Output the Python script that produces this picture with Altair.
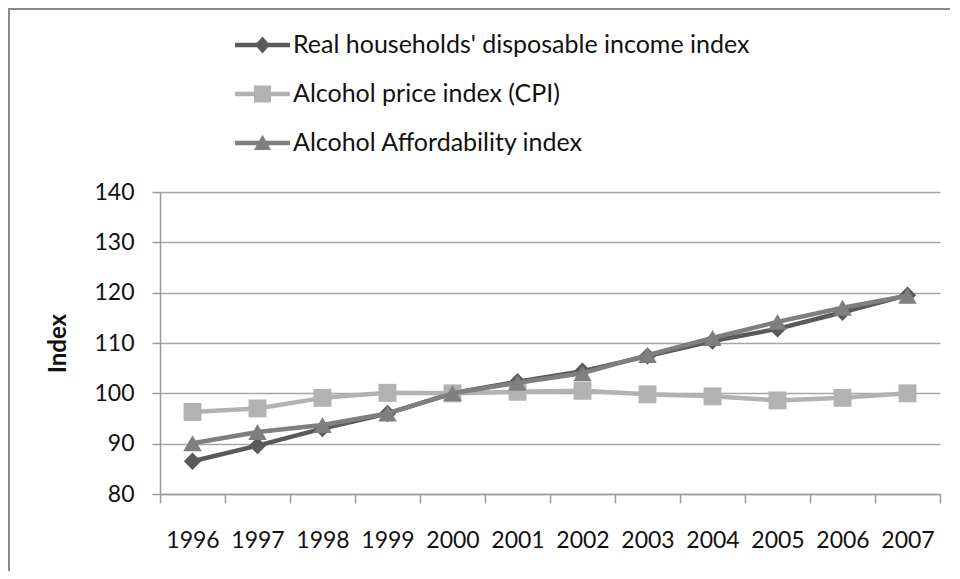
import altair as alt
import pandas as pd

# ---- data ----
years = list(range(1996, 2008))
income = [86.5, 89.6, 93.0, 96.0, 100.0, 102.3, 104.4, 107.4, 110.4, 112.8, 116.1, 119.5]
price = [96.3, 97.0, 99.1, 100.1, 100.0, 100.3, 100.5, 99.8, 99.4, 98.6, 99.1, 100.0]
afford = [90.1, 92.3, 93.7, 96.0, 100.0, 102.1, 104.0, 107.6, 111.0, 114.2, 117.0, 119.4]

series_names = [
    "Real households' disposable income index",
    "Alcohol price index (CPI)",
    "Alcohol Affordability index",
]
series_values = [income, price, afford]
y_ticks = [80, 90, 100, 110, 120, 130, 140]

# ---- styles ----
series_colors = ["#595959", "#b2b2b2", "#7f7f7f"]
marker_shapes = ["diamond", "square", "triangle-up"]
marker_sizes = [300, 320, 340]
legend_paths = [
    "M-1.83,-0.15L1.83,-0.15L1.83,0.15L-1.83,0.15Z M0,-0.57L0.5,0L0,0.57L-0.5,0Z",
    "M-1.83,-0.15L1.83,-0.15L1.83,0.15L-1.83,0.15Z M-0.57,-0.57L0.57,-0.57L0.57,0.57L-0.57,0.57Z",
    "M-1.83,-0.15L1.83,-0.15L1.83,0.15L-1.83,0.15Z M0,-0.55L0.57,0.47L-0.57,0.47Z",
]
FONT = "Lato"
TEXT = "#111111"
AXIS_GRAY = "#9a9a9a"

rows = []
for name, vals in zip(series_names, series_values):
    for yr, v in zip(years, vals):
        rows.append({"year": yr, "value": v, "series": name})
df = pd.DataFrame(rows)

x_scale = alt.Scale(domain=[years[0] - 0.5, years[-1] + 0.5], nice=False, zero=False)
y_scale = alt.Scale(domain=[y_ticks[0], y_ticks[-1]], nice=False, zero=False)

# ticks sit between the years (category boundaries); labels are shifted half a category right
x_axis = alt.Axis(
    orient="bottom",
    values=[years[0] - 0.5 + i for i in range(len(years) + 1)],
    labelExpr=f"datum.value < {years[-1]} ? format(datum.value + 0.5, 'd') : ''",
    labelOffset=32.5, labelFlush=False, labelOverlap=False, labelBound=False,
    title=None, grid=False,
    domainColor=AXIS_GRAY, domainWidth=1.5,
    tickColor=AXIS_GRAY, tickWidth=1.5, tickSize=9,
    labelFont=FONT, labelFontSize=23, labelColor=TEXT, labelPadding=26,
)
y_axis = alt.Axis(
    values=y_ticks, grid=True, gridColor="#a6a6a6", gridWidth=1.5,
    domainColor=AXIS_GRAY, domainWidth=1.5, tickColor=AXIS_GRAY, tickWidth=1.5,
    tickSize=8, labelPadding=18, labelFont=FONT, labelFontSize=23, labelColor=TEXT,
    title="Index", titleFont=FONT, titleFontSize=24, titleFontWeight="bold",
    titleColor=TEXT, titleX=-102, titleY=151, titleAlign="center", titleBaseline="middle",
)

enc_x = alt.X("year:Q", scale=x_scale, axis=x_axis)
enc_y = alt.Y("value:Q", scale=y_scale, axis=y_axis)

base = alt.Chart(df)
layers = []
for i, name in enumerate(series_names):
    sub = base.transform_filter(alt.datum.series == name)
    line = sub.mark_line(strokeWidth=4.5, strokeJoin="round", color=series_colors[i]).encode(
        x=enc_x, y=enc_y
    )
    pts = sub.mark_point(
        filled=True, opacity=1, shape=marker_shapes[i], size=marker_sizes[i], color=series_colors[i]
    ).encode(x=enc_x, y=enc_y)
    layers += [line, pts]

legend = alt.Legend(
    orient="none", legendX=87.5, legendY=-162, direction="vertical", title=None,
    padding=0, symbolSize=900, symbolStrokeWidth=0, symbolOpacity=1,
    labelFont=FONT, labelFontSize=25, labelColor=TEXT, labelOffset=15.5,
    rowPadding=21, labelLimit=800,
)
ghost = base.mark_point(filled=True, opacity=0).encode(
    x=enc_x,
    y=enc_y,
    color=alt.Color("series:N", scale=alt.Scale(domain=series_names, range=series_colors), legend=legend),
    shape=alt.Shape("series:N", scale=alt.Scale(domain=series_names, range=legend_paths), legend=legend),
)
layers.append(ghost)

frame_df = pd.DataFrame({"k": [0]})
left_border = alt.Chart(frame_df).mark_rule(color="#8a8a8a", strokeWidth=2).encode(
    x=alt.value(-151), y=alt.value(-184), y2=alt.value(380)
)
top_border = alt.Chart(frame_df).mark_rule(color="#8a8a8a", strokeWidth=2).encode(
    x=alt.value(-152), x2=alt.value(792), y=alt.value(-183)
)

chart = (
    alt.layer(*layers, left_border, top_border)
    .properties(
        width=780, height=302,
        padding={"left": 152, "top": 184, "right": 10, "bottom": 77},
        autosize=alt.AutoSizeParams(type="none"),
        background="white",
    )
    .configure_view(stroke=None)
)

chart.save("out.html", embed_options={"renderer": "svg", "actions": False})
